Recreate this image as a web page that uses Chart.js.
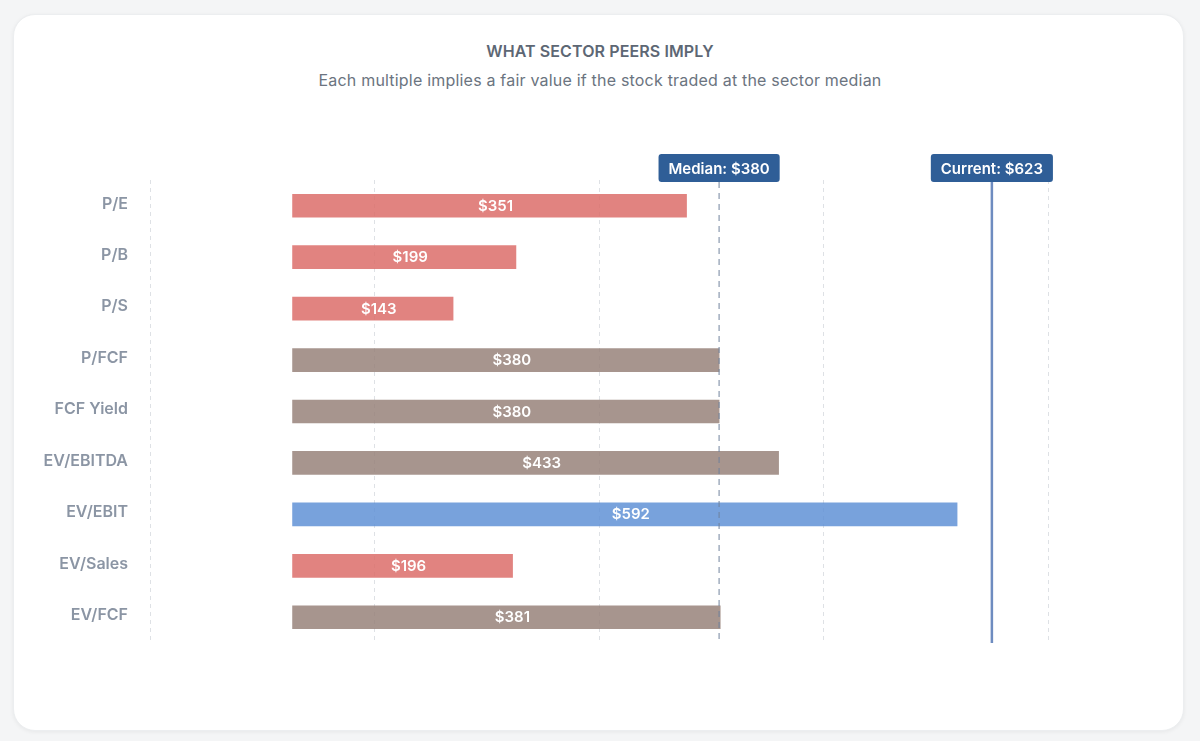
<!DOCTYPE html>
<html>
<head>
<meta charset="utf-8">
<script src="https://cdn.jsdelivr.net/npm/chart.js@4.4.1/dist/chart.umd.min.js"></script>
<style>
  html, body { margin: 0; padding: 0; background: #f4f5f6; }
  body { width: 1200px; height: 741px; position: relative; font-family: Inter, "Noto Sans", sans-serif; }
  .card {
    position: absolute; left: 13px; top: 14px; width: 1171px; height: 717px;
    background: #fff; border-radius: 22px;
    box-shadow: 0 1px 4px rgba(0,0,0,0.06); border: 1px solid #eceef0; box-sizing: border-box;
  }
  h1 {
    position: absolute; left: 0; right: 0; top: 41px; margin: 0; text-align: center;
    font-size: 16px; font-weight: 600; letter-spacing: 0.1px; color: #5d6774;
  }
  .sub {
    position: absolute; left: 0; right: 0; top: 70px; margin: 0; text-align: center;
    font-size: 16px; font-weight: 400; color: #6b7480; letter-spacing: 0.2px;
  }
  .chart-box { position: absolute; left: 0; top: 140px; width: 1200px; height: 520px; }
</style>
</head>
<body>
<div class="card"></div>
<h1>WHAT SECTOR PEERS IMPLY</h1>
<p class="sub">Each multiple implies a fair value if the stock traded at the sector median</p>
<div class="chart-box"><canvas id="peers"></canvas></div>
<script>
// === data ===
const multiples = ['P/E', 'P/B', 'P/S', 'P/FCF', 'FCF Yield', 'EV/EBITDA', 'EV/EBIT', 'EV/Sales', 'EV/FCF'];
const impliedValues = [351, 199, 143, 380, 380, 433, 592, 196, 381];
const medianValue = 380;
const currentPrice = 623;
const axisMin = -127;
const axisMax = 673;

const RED = 'rgba(221,113,109,0.87)';
const TAUPE = 'rgba(152,131,122,0.85)';
const BLUE = 'rgba(96,146,214,0.85)';

function barColor(v) {
  if (v >= currentPrice * 0.9) return BLUE;
  if (v < medianValue * 0.95) return RED;
  return TAUPE;
}

// vertical reference lines with label boxes
const refLines = {
  id: 'refLines',
  afterDatasetsDraw(chart) {
    const { ctx, chartArea, scales } = chart;
    const drawTag = (x, text) => {
      ctx.font = '600 15px Inter, sans-serif';
      const w = ctx.measureText(text).width + 20;
      const h = 28, top = 14;
      ctx.fillStyle = '#2f5e97';
      ctx.beginPath();
      ctx.roundRect(x - w / 2, top, w, h, 3);
      ctx.fill();
      ctx.fillStyle = '#fff';
      ctx.textAlign = 'center';
      ctx.textBaseline = 'middle';
      ctx.fillText(text, x, top + h / 2 + 1);
    };
    ctx.save();
    // median
    const mx = scales.x.getPixelForValue(medianValue);
    ctx.strokeStyle = 'rgba(110,128,155,0.75)';
    ctx.lineWidth = 1.3;
    ctx.setLineDash([6, 5]);
    ctx.beginPath();
    ctx.moveTo(mx, 42);
    ctx.lineTo(mx, chartArea.bottom);
    ctx.stroke();
    // current
    const cx = scales.x.getPixelForValue(currentPrice);
    ctx.setLineDash([]);
    ctx.strokeStyle = 'rgba(94,128,185,0.9)';
    ctx.lineWidth = 2.5;
    ctx.beginPath();
    ctx.moveTo(cx, 42);
    ctx.lineTo(cx, chartArea.bottom);
    ctx.stroke();
    drawTag(mx, 'Median: $' + medianValue);
    drawTag(cx, 'Current: $' + currentPrice);
    ctx.restore();
  }
};

// value labels inside bars
const barLabels = {
  id: 'barLabels',
  afterDatasetsDraw(chart) {
    const { ctx } = chart;
    const meta = chart.getDatasetMeta(0);
    ctx.save();
    ctx.font = '600 15px Inter, sans-serif';
    ctx.fillStyle = '#fff';
    ctx.textAlign = 'center';
    ctx.textBaseline = 'middle';
    meta.data.forEach((bar, i) => {
      const x = (bar.x + bar.base) / 2 + 6;
      ctx.fillText('$' + impliedValues[i], x, bar.y + 0.5);
    });
    ctx.restore();
  }
};

new Chart(document.getElementById('peers'), {
  type: 'bar',
  data: {
    labels: multiples,
    datasets: [{
      data: impliedValues,
      backgroundColor: impliedValues.map(barColor),
      borderWidth: 0,
      barThickness: 23
    }]
  },
  options: {
    indexAxis: 'y',
    responsive: true,
    maintainAspectRatio: false,
    animation: false,
    layout: { padding: { top: 40, right: 152, bottom: 17, left: 0 } },
    plugins: {
      legend: { display: false },
      tooltip: { enabled: false }
    },
    scales: {
      x: {
        min: axisMin,
        max: axisMax,
        ticks: { display: false, count: 5 },
        grid: { color: 'rgba(200,205,212,0.6)', drawTicks: false },
        border: { display: false, dash: [4, 4] }
      },
      y: {
        afterFit(scale) { scale.width = 150; },
        // invisible tick marks push the labels away from the plot
        grid: { drawOnChartArea: false, drawTicks: true, tickLength: 22, tickColor: 'transparent' },
        border: { display: false },
        ticks: {
          color: '#8b95a4',
          font: { family: 'Inter, sans-serif', size: 16, weight: '600' },
          padding: 0,
          labelOffset: -2
        }
      }
    }
  },
  plugins: [refLines, barLabels]
});
</script>
</body>
</html>
